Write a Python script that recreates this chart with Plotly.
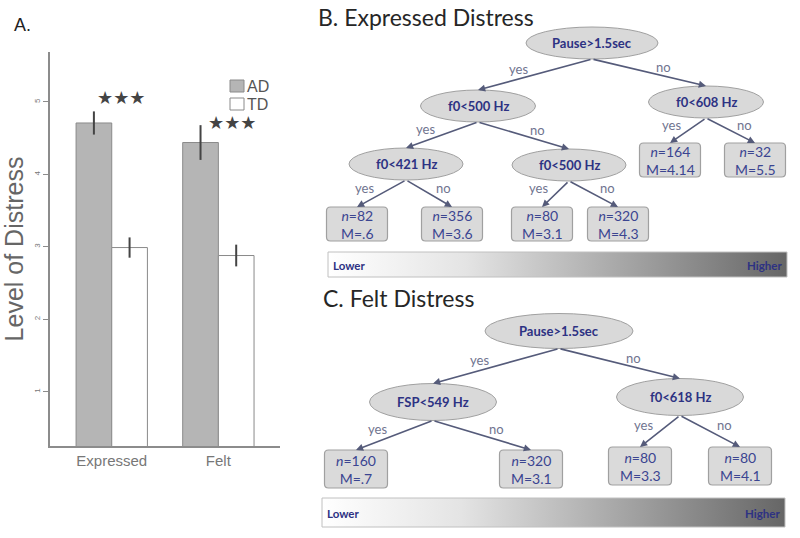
import plotly.graph_objects as go

# ---- panel A: bar chart values ----
conditions = ["Expressed", "Felt"]
ad_means = [4.71, 4.44]
ad_errors = [0.16, 0.24]
td_means = [2.99, 2.88]
td_errors = [0.14, 0.15]
stars = ["★★★", "★★★"]
star_x = [0.09, 1.13]
star_y = [5.06, 4.72]
y_ticks = [1, 2, 3, 4, 5]
groups = ["AD", "TD"]
group_colors = ["#b5b5b5", "white"]

# ---- panel B: expressed distress tree ----
b_splits = ["Pause>1.5sec", "f0<500 Hz", "f0<608 Hz", "f0<421 Hz", "f0<500 Hz"]
b_leaf_n = ["82", "356", "80", "320", "164", "32"]
b_leaf_m = [".6", "3.6", "3.1", "4.3", "4.14", "5.5"]
b_edges = [(0, "s1", "yes"), (0, "s2", "no"), (1, "s3", "yes"), (1, "s4", "no"),
           (3, "l0", "yes"), (3, "l1", "no"), (4, "l2", "yes"), (4, "l3", "no"),
           (2, "l4", "yes"), (2, "l5", "no")]

# ---- panel C: felt distress tree ----
c_splits = ["Pause>1.5sec", "FSP<549 Hz", "f0<618 Hz"]
c_leaf_n = ["160", "320", "80", "80"]
c_leaf_m = [".7", "3.1", "3.3", "4.1"]
c_edges = [(0, "s1", "yes"), (0, "s2", "no"), (1, "l0", "yes"), (1, "l1", "no"),
           (2, "l2", "yes"), (2, "l3", "no")]

# diagram layout (pixel positions on an overlay axis)
b_split_pos = [(592, 43, 132, 32), (478, 106, 115, 32), (706, 102, 115, 32),
               (406, 164, 114, 32), (569, 165, 114, 32)]
b_leaf_pos = [(357, 224), (452, 224), (542, 224), (618, 224), (670, 160), (755, 160)]
b_leaf_size = (61, 34)
b_bar = (328, 787, 252, 277)

c_split_pos = [(559, 331, 148, 35), (433, 402, 127, 37), (680, 397, 127, 37)]
c_leaf_pos = [(356, 469), (531, 469), (640, 466), (740, 466)]
c_leaf_size = (63, 38)
c_bar = (322, 785, 498, 527)

NAVY = "#2d3283"
EDGE = "#555b7a"

fig = go.Figure()

fig.add_trace(go.Bar(
    x=conditions, y=ad_means, name="AD",
    marker=dict(color=group_colors[0], line=dict(color="#8a8a8a", width=1)),
    error_y=dict(type="data", array=ad_errors, color="#444444", thickness=2, width=0),
    xaxis="x", yaxis="y",
))
fig.add_trace(go.Bar(
    x=conditions, y=td_means, name="TD",
    marker=dict(color=group_colors[1], line=dict(color="#8a8a8a", width=1)),
    error_y=dict(type="data", array=td_errors, color="#444444", thickness=2, width=0),
    xaxis="x", yaxis="y",
))

W, H = 800, 538
shapes = []
annotations = []


def px_ann(x, y, text, size, color, xanchor="center", family="Lato", **kw):
    annotations.append(dict(
        x=x, y=y, xref="x2", yref="y2", text=text, showarrow=False,
        xanchor=xanchor, yanchor="middle",
        font=dict(size=size, color=color, family=family), **kw))


def rounded_rect(x0, y0, x1, y1, r=4):
    return (f"M{x0+r},{y0} L{x1-r},{y0} Q{x1},{y0} {x1},{y0+r} L{x1},{y1-r} "
            f"Q{x1},{y1} {x1-r},{y1} L{x0+r},{y1} Q{x0},{y1} {x0},{y1-r} "
            f"L{x0},{y0+r} Q{x0},{y0} {x0+r},{y0} Z")


def draw_tree(splits, split_pos, leaf_n, leaf_m, leaf_pos, leaf_size, edges, bar):
    for label, (cx, cy, w, h) in zip(splits, split_pos):
        shapes.append(dict(type="circle", xref="x2", yref="y2",
                           x0=cx - w / 2, x1=cx + w / 2, y0=cy - h / 2, y1=cy + h / 2,
                           fillcolor="#d9d9d9", line=dict(color="#a0a0a0", width=1)))
        px_ann(cx, cy, f"<b>{label}</b>", 13, NAVY)
    lw, lh = leaf_size
    for n, m, (cx, cy) in zip(leaf_n, leaf_m, leaf_pos):
        shapes.append(dict(type="path", xref="x2", yref="y2",
                           path=rounded_rect(cx - lw / 2, cy - lh / 2, cx + lw / 2, cy + lh / 2),
                           fillcolor="#dadada", line=dict(color="#a0a0a0", width=1.2)))
        px_ann(cx, cy, f"<i>n</i>={n}<br>M={m}", 14, "#3b4591")
    for parent, child, lab in edges:
        px0, py0, _, ph = split_pos[parent]
        idx = int(child[1:])
        if child[0] == "s":
            tx, ty, _, th = split_pos[idx]
            ty = ty - th / 2
        else:
            tx, ty = leaf_pos[idx]
            ty = ty - lh / 2
        sx, sy = px0, py0 + ph / 2
        annotations.append(dict(
            x=tx, y=ty, ax=sx, ay=sy, xref="x2", yref="y2", axref="x2", ayref="y2",
            text="", showarrow=True, arrowhead=2, arrowsize=0.9, arrowwidth=1.6,
            arrowcolor=EDGE, standoff=0, startstandoff=0))
        mx, my = (sx + tx) / 2, (sy + ty) / 2
        dx = -17 if lab == "yes" else 14
        px_ann(mx + dx, my - 6, lab, 13, "#70748f")
    x0, x1, y0, y1 = bar
    fig.add_trace(go.Scatter(
        x=[x0, x1, x1, x0, x0], y=[y0, y0, y1, y1, y0], mode="lines",
        fill="toself", line=dict(color="#c0c0c0", width=1),
        fillgradient=dict(type="horizontal",
                          colorscale=[[0, "#ffffff"], [0.3, "#e4e4e4"], [1, "#666666"]]),
        xaxis="x2", yaxis="y2", showlegend=False, hoverinfo="skip"))
    px_ann(x0 + 3, (y0 + y1) / 2 + 1, "<b>Lower</b>", 11.5, NAVY, xanchor="left")
    px_ann(x1 - 3, (y0 + y1) / 2 + 1, "<b>Higher</b>", 11.5, NAVY, xanchor="right")


draw_tree(b_splits, b_split_pos, b_leaf_n, b_leaf_m, b_leaf_pos, b_leaf_size, b_edges, b_bar)
draw_tree(c_splits, c_split_pos, c_leaf_n, c_leaf_m, c_leaf_pos, c_leaf_size, c_edges, c_bar)

# titles
px_ann(316, 17, "B. Expressed Distress", 23, "#262626", xanchor="left")
px_ann(321, 298, "C. Felt Distress", 23, "#262626", xanchor="left")
px_ann(12, 25, "A.", 18, "#222222", xanchor="left", family="Liberation Sans")

# legend for panel A (drawn by hand to match the boxed keys)
for i, (g, col) in enumerate(zip(groups, group_colors)):
    ky = 86 + i * 18
    shapes.append(dict(type="rect", xref="x2", yref="y2", x0=230, x1=244, y0=ky - 6, y1=ky + 6,
                       fillcolor=col, line=dict(color="#8a8a8a", width=1)))
    px_ann(245, ky, g, 16, "#555555", xanchor="left", family="Liberation Sans")

# significance stars
for sx_, sy_, s in zip(star_x, star_y, stars):
    annotations.append(dict(x=sx_, y=sy_, xref="x", yref="y", text=s,
                            showarrow=False, xanchor="center", yanchor="middle",
                            font=dict(size=18, color="#444444", family="DejaVu Sans")))

fig.update_layout(
    width=W, height=H, margin=dict(l=0, r=0, t=0, b=0),
    paper_bgcolor="white", plot_bgcolor="rgba(0,0,0,0)",
    barmode="group", bargap=0.331, bargroupgap=0,
    showlegend=False,
    xaxis=dict(domain=[50 / W, 280 / W], range=[-0.579, 1.578], showline=True,
               linecolor="#8c8c8c", linewidth=1.5, ticks="", showgrid=False,
               tickfont=dict(size=15, color="#777777", family="Liberation Sans"),
               anchor="y", automargin=False),
    yaxis=dict(domain=[1 - 446 / H, 1 - 52 / H], range=[0.25, 5.69], tickvals=y_ticks,
               showline=True, linecolor="#8c8c8c", linewidth=1.5, ticks="outside",
               ticklen=5, tickcolor="#8c8c8c", showgrid=False, zeroline=False,
               tickangle=-90, tickfont=dict(size=8, color="#777777", family="Liberation Sans"),
               title=dict(text="Level of Distress", standoff=12,
                          font=dict(size=25, color="#666666", family="Liberation Sans")),
               anchor="x", automargin=False),
    xaxis2=dict(domain=[0, 1], range=[0, W], visible=False, anchor="y2", automargin=False),
    yaxis2=dict(domain=[0, 1], range=[H, 0], visible=False, anchor="x2", automargin=False),
    shapes=shapes, annotations=annotations,
)

# the page's default body margin would push the 800x538 figure off by 8px
fig.write_html("out.html", config={"displayModeBar": False},
               post_script="document.body.style.margin='0';")
